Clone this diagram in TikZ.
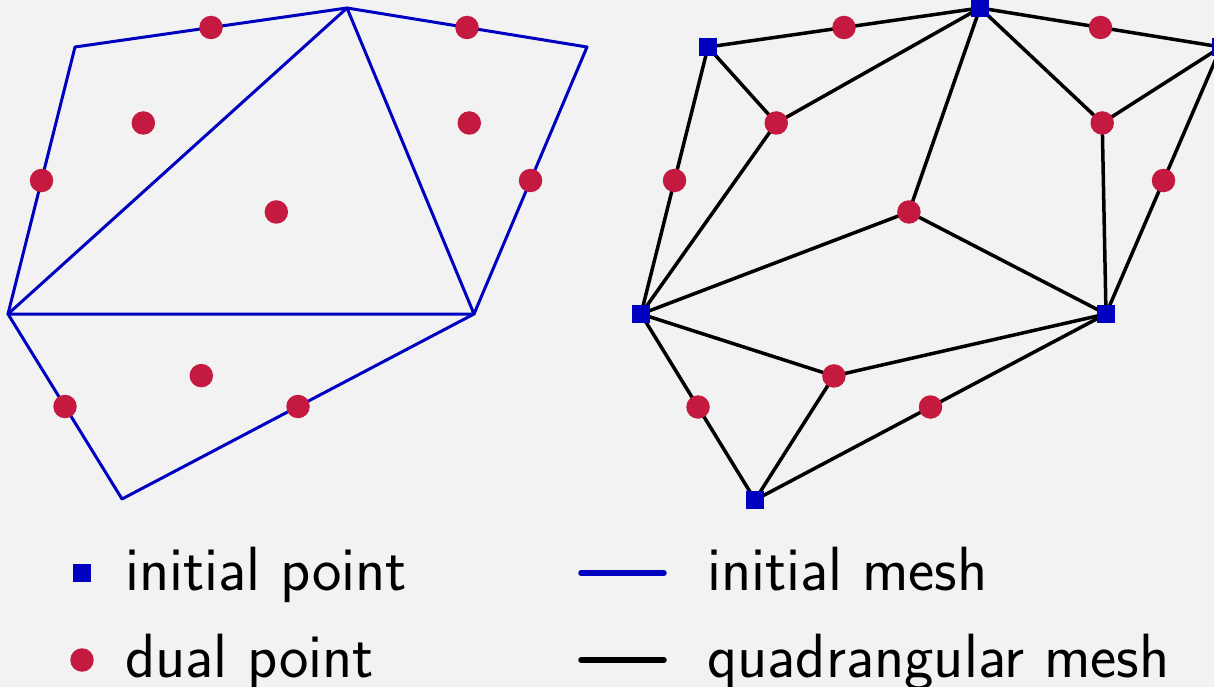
\documentclass[tikz,border=0pt]{standalone}
\usetikzlibrary{calc}
\definecolor{bg}{HTML}{F2F2F2}
\definecolor{meshblue}{HTML}{0000C0}
\definecolor{dualred}{HTML}{C41A40}
\pgfdeclarelayer{bglayer}
\pgfdeclarelayer{edges}
\pgfsetlayers{bglayer,edges,main}
\begin{document}
\begin{tikzpicture}[x=1pt,y=-1pt,
  ipt/.style={rectangle, fill=meshblue, minimum size=18pt, inner sep=0pt, outer sep=0pt},
  dpt/.style={circle, fill=dualred, minimum size=23.5pt, inner sep=0pt, outer sep=0pt},
  imesh/.style={draw=meshblue, line width=3pt, line join=round},
  qmesh/.style={draw=black, line width=3.5pt, line join=round},
  legline/.style={line width=5.5pt, line cap=round},
  lbl/.style={anchor=base west, inner sep=0pt, font=\sffamily\fontsize{62.5}{64}\selectfont}]
\begin{pgfonlayer}{bglayer}
\fill[bg] (0,0) rectangle (1214,687);
\end{pgfonlayer}
\useasboundingbox (0,0) rectangle (1214,687);

% ---------- left: initial mesh ----------
\coordinate (A) at (75,47);
\coordinate (B) at (347,8);
\coordinate (C) at (587,47);
\coordinate (E) at (474,314);
\coordinate (F) at (122,499);
\coordinate (D) at (8,314);
\draw[imesh] (A) -- (B) -- (C) -- (E) -- (F) -- (D) -- cycle;
\draw[imesh] (D) -- (B) -- (E) -- cycle;
\node[dpt] (lAB) at ($(A)!0.5!(B)$) {};
\node[dpt] (lBC) at ($(B)!0.5!(C)$) {};
\node[dpt] (lAD) at ($(A)!0.5!(D)$) {};
\node[dpt] (lCE) at ($(C)!0.5!(E)$) {};
\node[dpt] (lDF) at ($(D)!0.5!(F)$) {};
\node[dpt] (lEF) at ($(E)!0.5!(F)$) {};
\node[dpt] (lABD) at ($0.3333*(A)+0.3333*(B)+0.3333*(D)$) {};
\node[dpt] (lBCE) at ($0.3333*(B)+0.3333*(C)+0.3333*(E)$) {};
\node[dpt] (lBDE) at ($0.3333*(B)+0.3333*(D)+0.3333*(E)$) {};
\node[dpt] (lDEF) at ($0.3333*(D)+0.3333*(E)+0.3333*(F)$) {};

% ---------- right: quadrangular mesh ----------
\coordinate (cA) at (708,47);
\coordinate (cB) at (980,8);
\coordinate (cC) at (1221,47);
\coordinate (cE) at (1106,314);
\coordinate (cF) at (755,500);
\coordinate (cD) at (641,314);
\node[ipt] (rA) at (cA) {};
\node[ipt] (rB) at (cB) {};
\node[ipt] (rC) at (cC) {};
\node[ipt] (rD) at (cD) {};
\node[ipt] (rE) at (cE) {};
\node[ipt] (rF) at (cF) {};
\node[dpt] (rAB) at ($(cA)!0.5!(cB)$) {};
\node[dpt] (rBC) at ($(cB)!0.5!(cC)$) {};
\node[dpt] (rAD) at ($(cA)!0.5!(cD)$) {};
\node[dpt] (rCE) at ($(cC)!0.5!(cE)$) {};
\node[dpt] (rDF) at ($(cD)!0.5!(cF)$) {};
\node[dpt] (rEF) at ($(cE)!0.5!(cF)$) {};
\node[dpt] (rABD) at ($0.3333*(cA)+0.3333*(cB)+0.3333*(cD)$) {};
\node[dpt] (rBCE) at ($0.3333*(cB)+0.3333*(cC)+0.3333*(cE)$) {};
\node[dpt] (rBDE) at ($0.3333*(cB)+0.3333*(cD)+0.3333*(cE)$) {};
\node[dpt] (rDEF) at ($0.3333*(cD)+0.3333*(cE)+0.3333*(cF)$) {};
\begin{pgfonlayer}{edges}
\draw[qmesh] (rA.center) -- (rAB.center) -- (rB.center) -- (rBC.center) -- (rC.center)
  -- (rCE.center) -- (rE.center) -- (rEF.center) -- (rF.center) -- (rDF.center)
  -- (rD.center) -- (rAD.center) -- (rA.center);
\draw[qmesh] (rA.center) -- (rABD.center) -- (rB.center);
\draw[qmesh] (rD.center) -- (rABD.center);
\draw[qmesh] (rB.center) -- (rBCE.center) -- (rC.center);
\draw[qmesh] (rE.center) -- (rBCE.center);
\draw[qmesh] (rB.center) -- (rBDE.center) -- (rD.center);
\draw[qmesh] (rE.center) -- (rBDE.center);
\draw[qmesh] (rD.center) -- (rDEF.center) -- (rE.center);
\draw[qmesh] (rF.center) -- (rDEF.center);
\end{pgfonlayer}

% ---------- legend ----------
\node[ipt] (lgsq) at (82,573) {};
\node[dpt] (lgci) at (82,660) {};
\node[lbl] (lgt1) at (125,590) {initial point};
\node[lbl] (lgt2) at (125,677) {dual point};
\coordinate (lb1) at (581,573);
\coordinate (lb2) at (664,573);
\coordinate (lk1) at (581,660);
\coordinate (lk2) at (664,660);
\draw[legline, meshblue] (lb1) -- (lb2);
\draw[legline, black] (lk1) -- (lk2);
\node[lbl] (lgt3) at (707,590) {initial mesh};
\node[lbl] (lgt4) at (707,677) {quadrangular mesh};
\end{tikzpicture}
\end{document}
